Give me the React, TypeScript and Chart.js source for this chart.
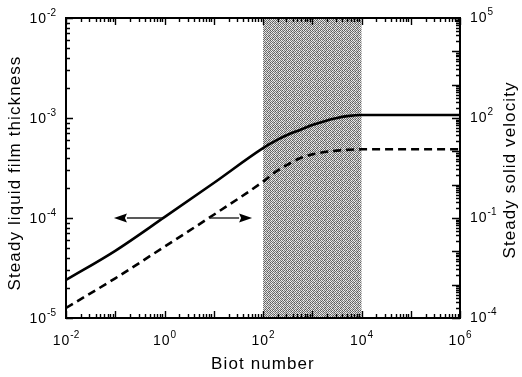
import React, { useEffect, useRef } from "react";
import { Chart, registerables } from "chart.js";
Chart.register(...registerables);

// Biot number (x)
const biot = [1e-2, 1e-1, 1, 1e1, 1e2, 177.8, 316.2, 562.3, 1e3, 1778, 3162, 5623, 1e4, 1e5, 1e6];
const filmThickness = [2.4e-5, 4.7e-5, 1.02e-4, 2.24e-4, 5.0e-4, 5.9e-4, 6.8e-4, 7.6e-4, 8.5e-4, 9.3e-4, 1.0e-3, 1.05e-3, 1.07e-3, 1.07e-3, 1.07e-3];
const solidVelocity = [2.0e-4, 1.55e-3, 1.38e-2, 0.125, 1.23, 2.4, 4.0, 6.2, 8.1, 9.5, 10.5, 11.2, 11.5, 11.5, 11.5];

const shadedRange = [1e2, 1e4];
const xTicks = [1e-2, 1e0, 1e2, 1e4, 1e6];
const leftTicks = [1e-5, 1e-4, 1e-3, 1e-2];
const rightTicks = [1e-4, 1e-1, 1e2, 1e5];
const leftArrow = [0.89, 0.094]; // tail, tip (Biot)
const rightArrow = [8.4, 60];
const arrowLevel = 1e-4; // on left axis

const xTitle = "Biot number";
const leftTitle = "Steady liquid film thickness";
const rightTitle = "Steady solid velocity";

const FONT = "'Liberation Sans', Arial, sans-serif";

// halftone texture tile (grey levels 0-9)
const TILE = [
  "29382719",
  "83928372",
  "27193829",
  "92837182",
  "38291739",
  "71829283",
  "19372819",
  "82719372",
];

function logTicks(min: number, max: number) {
  const out: { v: number; major: boolean }[] = [];
  const d0 = Math.round(Math.log10(min));
  const d1 = Math.round(Math.log10(max));
  for (let d = d0; d <= d1; d++) {
    for (let k = 1; k <= 9; k++) {
      const v = k * Math.pow(10, d);
      if (v >= min * 0.999 && v <= max * 1.001) out.push({ v, major: k === 1 });
    }
  }
  return out;
}

function drawPow(ctx: CanvasRenderingContext2D, value: number, x: number, y: number, align: string) {
  const e = String(Math.round(Math.log10(value)));
  ctx.font = `14px ${FONT}`;
  const wb = ctx.measureText("10").width + 1;
  ctx.font = `10px ${FONT}`;
  const we = ctx.measureText(e).width;
  const total = wb + 1 + we;
  const left = align === "center" ? x - total / 2 : align === "right" ? x - total : x;
  ctx.textAlign = "left";
  ctx.textBaseline = "alphabetic";
  ctx.font = `14px ${FONT}`;
  (ctx as any).letterSpacing = "1px";
  ctx.fillText("10", left, y);
  (ctx as any).letterSpacing = "0px";
  ctx.font = `10px ${FONT}`;
  ctx.fillText(e, left + wb + 1, y - 7);
}

function makePattern(ctx: CanvasRenderingContext2D) {
  const c = document.createElement("canvas");
  c.width = 8;
  c.height = 8;
  const p = c.getContext("2d")!;
  for (let i = 0; i < 8; i++)
    for (let j = 0; j < 8; j++) {
      const lv = Number(TILE[i][j]);
      const g = Math.round(70 + lv * 19);
      p.fillStyle = `rgb(${g},${g},${g})`;
      p.fillRect(j, i, 1, 1);
    }
  return ctx.createPattern(c, "repeat")!;
}

const decor = {
  id: "decor",
  beforeDatasetsDraw(chart: any) {
    const { ctx, chartArea: a, scales } = chart;
    const x0 = scales.x.getPixelForValue(shadedRange[0]);
    const x1 = scales.x.getPixelForValue(shadedRange[1]);
    ctx.save();
    ctx.fillStyle = makePattern(ctx);
    ctx.fillRect(x0, a.top, x1 - x0, a.bottom - a.top);
    ctx.restore();
  },
  afterDraw(chart: any) {
    const { ctx, chartArea: a, scales } = chart;
    const sx = scales.x, sy = scales.y, sy1 = scales.y1;
    ctx.save();
    ctx.strokeStyle = "#000";
    ctx.fillStyle = "#000";

    // ticks
    ctx.lineWidth = 1.4;
    ctx.beginPath();
    for (const t of logTicks(sx.min, sx.max)) {
      const px = Math.round(sx.getPixelForValue(t.v)) + 0.5;
      const len = t.major ? 7 : 4;
      ctx.moveTo(px, a.bottom);
      ctx.lineTo(px, a.bottom - len);
      ctx.moveTo(px, a.top);
      ctx.lineTo(px, a.top + len);
    }
    for (const t of logTicks(sy.min, sy.max)) {
      const py = Math.round(sy.getPixelForValue(t.v)) + 0.5;
      const len = t.major ? 7 : 4;
      ctx.moveTo(a.left, py);
      ctx.lineTo(a.left + len, py);
    }
    for (const t of logTicks(sy1.min, sy1.max)) {
      const py = Math.round(sy1.getPixelForValue(t.v)) + 0.5;
      const len = t.major ? 8 : 4;
      ctx.moveTo(a.right, py);
      ctx.lineTo(a.right - len, py);
    }
    ctx.stroke();

    // frame
    ctx.lineWidth = 2;
    ctx.strokeRect(a.left, a.top, a.right - a.left, a.bottom - a.top);

    // arrows
    const ay = sy.getPixelForValue(arrowLevel);
    const arrow = (from: number, to: number) => {
      const xf = sx.getPixelForValue(from);
      const xt = sx.getPixelForValue(to);
      const dir = Math.sign(xt - xf);
      const hl = 13;
      ctx.strokeStyle = "#222";
      ctx.lineWidth = 1.4;
      ctx.beginPath();
      ctx.moveTo(xf, ay);
      ctx.lineTo(xt - dir * hl, ay);
      ctx.stroke();
      ctx.fillStyle = "#000";
      ctx.beginPath();
      ctx.moveTo(xt, ay);
      ctx.lineTo(xt - dir * hl, ay - 4.5);
      ctx.lineTo(xt - dir * (hl - 2), ay);
      ctx.lineTo(xt - dir * hl, ay + 4.5);
      ctx.closePath();
      ctx.fill();
    };
    arrow(leftArrow[0], leftArrow[1]);
    arrow(rightArrow[0], rightArrow[1]);

    // tick labels
    ctx.fillStyle = "#000";
    for (const v of xTicks) drawPow(ctx, v, sx.getPixelForValue(v), a.bottom + 27, "center");
    for (const v of leftTicks) drawPow(ctx, v, a.left - 10, sy.getPixelForValue(v) + 5, "right");
    for (const v of rightTicks) drawPow(ctx, v, a.right + 10, sy1.getPixelForValue(v) + 4, "left");

    // titles
    ctx.font = `17px ${FONT}`;
    (ctx as any).letterSpacing = "1.1px";
    ctx.textAlign = "center";
    ctx.textBaseline = "alphabetic";
    ctx.fillText(xTitle, (a.left + a.right) / 2, a.bottom + 51);
    ctx.save();
    ctx.translate(20, 173);
    ctx.rotate(-Math.PI / 2);
    ctx.fillText(leftTitle, 0, 0);
    ctx.restore();
    ctx.save();
    ctx.translate(515, 170);
    ctx.rotate(-Math.PI / 2);
    ctx.fillText(rightTitle, 0, 0);
    ctx.restore();
    (ctx as any).letterSpacing = "0px";
    ctx.restore();
  },
};

export default function App() {
  const ref = useRef<HTMLCanvasElement>(null);
  useEffect(() => {
    if (!ref.current) return;
    const chart = new Chart(ref.current, {
      type: "line",
      data: {
        datasets: [
          {
            label: "film",
            data: biot.map((b, i) => ({ x: b, y: filmThickness[i] })),
            borderColor: "#000",
            borderWidth: 2.6,
            pointRadius: 0,
            cubicInterpolationMode: "monotone",
            yAxisID: "y",
          },
          {
            label: "velocity",
            data: biot.map((b, i) => ({ x: b, y: solidVelocity[i] })),
            borderColor: "#000",
            borderWidth: 2.6,
            borderDash: [8, 5],
            pointRadius: 0,
            cubicInterpolationMode: "monotone",
            yAxisID: "y1",
          },
        ],
      },
      options: {
        responsive: false,
        animation: false,
        layout: { padding: { left: 66, right: 62, top: 18, bottom: 59 } },
        plugins: { legend: { display: false }, tooltip: { enabled: false } },
        scales: {
          x: { type: "logarithmic", min: 1e-2, max: 1e6, display: false },
          y: { type: "logarithmic", min: 1e-5, max: 1e-2, display: false, position: "left" },
          y1: { type: "logarithmic", min: 1e-4, max: 1e5, display: false, position: "right" },
        },
      },
      plugins: [decor],
    });
    return () => chart.destroy();
  }, []);
  return (
    <div style={{ position: "fixed", left: 0, top: 0, width: 522, height: 377, background: "#fff" }}>
      <canvas ref={ref} width={522} height={377} style={{ display: "block" }} />
    </div>
  );
}
